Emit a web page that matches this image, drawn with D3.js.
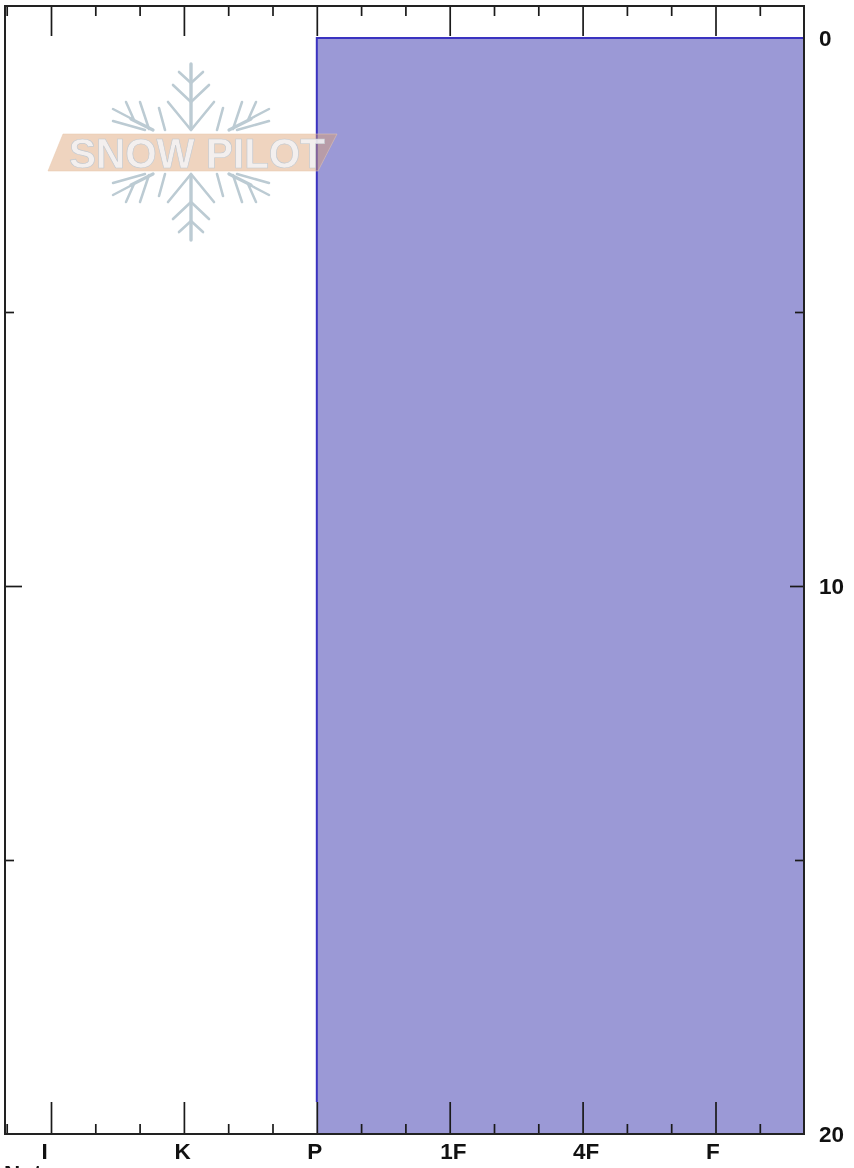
<!DOCTYPE html>
<html>
<head>
<meta charset="utf-8">
<script src="https://cdn.jsdelivr.net/npm/d3@7"></script>
<style>
  html, body { margin: 0; padding: 0; background: #fff; overflow: hidden; }
  svg { display: block; filter: blur(0.35px); }
  text { font-family: "Liberation Sans", Arial, sans-serif; font-weight: bold; fill: #111; }
  .axis path { display: none; }
  .axis line { stroke: #1a1a1a; stroke-width: 1.7; }
</style>
</head>
<body>
<svg id="chart" width="854" height="1168"></svg>
<script>
// hand hardness categories, in order along the x axis
var hardness = ['I', 'K', 'P', '1F', '4F', 'F'];
// minor ticks between them, as positions on the hardness index
var hardnessMinor = [-1/3, 1/3, 2/3, 4/3, 5/3, 7/3, 8/3, 10/3, 11/3, 13/3, 14/3, 16/3];
// depth axis
var depthMajor = [0, 10, 20];
var depthMinor = [5, 15];
// layer: top, bottom (depth) and hardness position
var layerTop = [0];
var layerBottom = [20];
var layerHardness = ['P'];

var svg = d3.select('#chart');

var left = 5, right = 804, top0 = 6, bottom = 1134;

var x = d3.scaleLinear().domain([0, 5]).range([51, 715.5]);
var y = d3.scaleLinear().domain([0, 20]).range([38, 1134]);

// layer fill
layerTop.forEach(function (t, i) {
  var x0 = x(hardness.indexOf(layerHardness[i]));
  svg.append('rect')
    .attr('x', x0).attr('y', y(t))
    .attr('width', right - x0).attr('height', y(layerBottom[i]) - y(t))
    .attr('fill', '#9b99d6');
  svg.append('path')
    .attr('d', 'M' + x0 + ',' + (bottom - 32) + 'V' + y(t) + 'H' + right)
    .attr('fill', 'none').attr('stroke', '#3a32c0').attr('stroke-width', 2);
});

// logo watermark
var logo = svg.append('g').attr('transform', 'translate(191,152)').style('filter', 'blur(0.6px)');
var flake = logo.append('g').attr('stroke', '#bccbd3').attr('fill', 'none')
  .attr('stroke-linecap', 'round');
[1, -1].forEach(function (sy) {
  var arm = flake.append('g').attr('transform', 'scale(1,' + sy + ')');
  arm.append('path').attr('stroke-width', 3.4).attr('d', 'M0,-23V-88');
  arm.append('path').attr('stroke-width', 2.6)
    .attr('d', 'M0,-22L-23,-50M0,-22L23,-50M0,-50L-18,-67M0,-50L18,-67M0,-69L-12,-80M0,-69L12,-80');
  arm.append('path').attr('stroke-width', 2.6).attr('d', 'M-26,-22L-32,-44M26,-22L32,-44');
});
[[1, 1], [-1, 1], [1, -1], [-1, -1]].forEach(function (s) {
  var arm = flake.append('g').attr('transform', 'scale(' + s[0] + ',' + s[1] + ')');
  arm.append('path').attr('stroke-width', 3.2).attr('d', 'M38,-22L60,-33');
  arm.append('path').attr('stroke-width', 2.5)
    .attr('d', 'M42,-23L51,-50M57,-32L65,-50M57,-32L78,-43M46,-22L78,-31');
});
logo.append('path')
  .attr('d', 'M-143,19L-128,-18H146L127,19Z')
  .attr('fill', '#dc9f72').attr('fill-opacity', 0.45)
  .attr('stroke', '#e8c7ae').attr('stroke-opacity', 0.5);
logo.append('text')
  .attr('x', -122).attr('y', 16)
  .attr('textLength', 256).attr('lengthAdjust', 'spacingAndGlyphs')
  .style('font-size', '43px')
  .style('fill', '#f3f5f7').style('fill-opacity', 0.85)
  .style('stroke', '#c4c9cf').style('stroke-width', 0.7)
  .text('SNOW PILOT');

// ticks, top and bottom
function drawX(axis, vals, size, pos) {
  return svg.append('g').attr('class', 'axis')
    .attr('transform', 'translate(0,' + pos + ')')
    .call(axis(x).tickValues(vals).tickSize(size).tickFormat(function (d) { return hardness[d] || ''; }));
}
drawX(d3.axisTop, d3.range(hardness.length), -30, top0).selectAll('text').remove();
drawX(d3.axisTop, hardnessMinor, -10, top0).selectAll('text').remove();
drawX(d3.axisBottom, hardnessMinor, -10, bottom).selectAll('text').remove();
var xLabels = drawX(d3.axisBottom, d3.range(hardness.length), -32, bottom);
xLabels.selectAll('text')
  .attr('text-anchor', 'start').attr('x', -10).attr('dy', null).attr('y', 25)
  .style('font-size', '22.5px').style('fill', '#111');

// ticks, left and right
svg.append('g').attr('class', 'axis').attr('transform', 'translate(' + left + ',0)')
  .call(d3.axisLeft(y).tickValues([10]).tickSize(-17).tickFormat(''));
svg.append('g').attr('class', 'axis').attr('transform', 'translate(' + left + ',0)')
  .call(d3.axisLeft(y).tickValues(depthMinor).tickSize(-9).tickFormat(''));
svg.append('g').attr('class', 'axis').attr('transform', 'translate(' + right + ',0)')
  .call(d3.axisRight(y).tickValues([10]).tickSize(-14).tickFormat(''));
svg.append('g').attr('class', 'axis').attr('transform', 'translate(' + right + ',0)')
  .call(d3.axisRight(y).tickValues(depthMinor).tickSize(-9).tickFormat(''));

// frame
svg.append('rect').attr('x', left).attr('y', top0)
  .attr('width', right - left).attr('height', bottom - top0)
  .attr('fill', 'none').attr('stroke', '#222').attr('stroke-width', 2);

// depth labels
depthMajor.forEach(function (d) {
  svg.append('text').attr('x', 819).attr('y', y(d) + 8)
    .style('font-size', '22.5px').text(d);
});
// notes heading, cut by the bottom of the page as in the original
svg.append('text').attr('x', 4).attr('y', 1181).style('font-size', '22.5px').text('Notes');
</script>
</body>
</html>
